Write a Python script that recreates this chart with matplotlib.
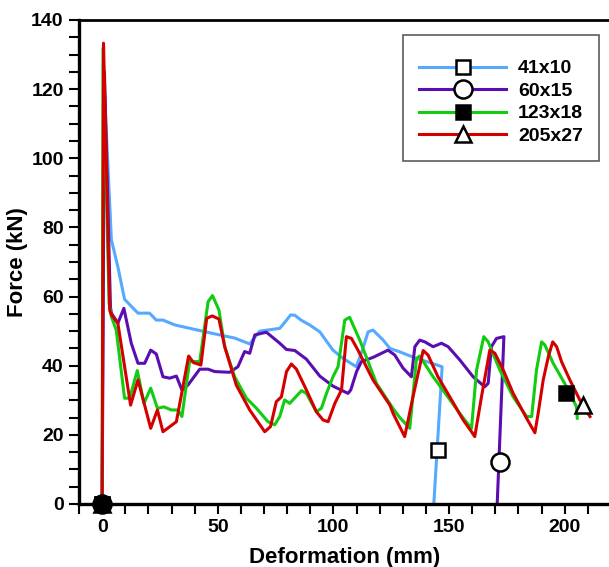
"""
force-deformation curves for the four tube sections
"""

import matplotlib
matplotlib.use("Agg")
import matplotlib.pyplot as plt
from matplotlib.lines import Line2D
from matplotlib.ticker import MultipleLocator

plt.rcParams['font.family'] = ['Liberation Sans', 'DejaVu Sans']
plt.rcParams['font.weight'] = 'bold'

# ---- data (deformation in mm, force in kN) ----
labels = ["41x10", "60x15", "123x18", "205x27"]

x_41 = [0, 0.8, 4.0, 6.8, 9.7, 15.5, 20.5, 23.4, 26.3, 31.4, 40.0, 48.7, 57.3, 63.8, 68.1,
        76.8, 79.5, 81.5, 83.3, 86.0, 89.7, 94.1, 99.8, 104.2, 109.9, 112.5, 115.0, 117.1, 121.5,
        124.4, 128.7, 135.9, 141.7, 147.0, 143.4]
y_41 = [0, 122, 76.4, 68.6, 59.2, 55.2, 55.2, 53.2, 53.2, 51.8, 50.5, 49.2, 48.0, 46.3, 50.0,
        50.8, 53.0, 54.7, 54.6, 53.2, 51.8, 49.8, 44.5, 42.1, 39.7, 44.5, 49.8, 50.3, 47.4,
        45.0, 44.0, 42.1, 40.9, 39.7, 0]

x_60 = [0, 1.0, 3.6, 4.0, 6.8, 9.4, 12.6, 15.5, 18.4, 21.0, 23.4, 26.3, 29.2, 32.1, 34.5,
        37.1, 42.2, 45.8, 48.7, 55.1, 58.7, 61.6, 63.8, 66.0, 71.0, 76.8, 79.7, 83.3,
        88.3, 94.1, 99.8, 106.3, 107.5, 110.0, 112.1, 117.1, 123.6, 126.5, 130.1, 133.7,
        135.2, 137.3, 139.5, 143.1, 146.7, 149.6, 154.6, 160.4, 165.4, 166.9, 168.3,
        170.5, 173.7, 170.8]
y_60 = [0, 125, 57, 55.2, 52.3, 56.6, 46.5, 40.7, 40.7, 44.5, 43.4, 36.8, 36.4, 37.0, 33.0,
        34.4, 39.0, 39.0, 38.3, 38.1, 39.7, 44.1, 43.6, 48.9, 49.7, 46.5, 44.7, 44.4,
        41.9, 37.0, 34.1, 32.0, 33.0, 38.3, 41.2, 42.4, 44.5, 43.1, 39.3, 36.8,
        45.5, 47.4, 46.9, 45.5, 46.5, 45.5, 41.7, 36.8, 33.9, 34.9, 45.5,
        47.9, 48.4, 0]

x_123 = [0, 0.4, 3.0, 4.0, 6.1, 9.7, 11.9, 15.2, 18.1, 21.0, 23.9, 26.7, 29.9, 32.8, 34.5,
         37.8, 42.2, 45.8, 47.7, 50.5, 53.0, 57.3, 62.4, 66.7, 71.7, 74.6, 76.8, 78.9,
         81.1, 86.2, 88.3, 92.6, 94.8, 97.0, 99.8, 102.0, 104.9, 107.0, 111.4, 118.6,
         126.2, 128.7, 133.0, 135.9, 137.3, 143.1, 148.9, 154.6, 159.0, 159.7, 161.9,
         165.0, 166.9, 171.9, 177.7, 183.5, 185.7, 187.8, 190.0, 191.4, 195.0, 200.8,
         205.1, 205.4]
y_123 = [0, 132, 58, 54.2, 50.3, 30.6, 30.6, 38.6, 29.1, 33.5, 27.7, 28.1, 27.2, 27.2, 25.3,
         41.2, 41.2, 58.5, 60.3, 56.1, 45.5, 36.8, 30.6, 27.7, 23.8, 22.9, 25.3, 30.1,
         29.1, 32.8, 32.0, 26.7, 27.7, 32.0, 36.8, 39.7, 53.2, 54.0, 47.4, 34.9,
         27.2, 25.0, 21.9, 42.1, 42.8, 36.8, 31.5, 26.2, 22.4, 21.9, 38.8,
         48.4, 46.9, 38.8, 31.0, 25.3, 25.3, 38.8, 46.9, 46.0, 40.7, 33.9,
         28.1, 24.8]

x_205 = [0, 0.6, 3.3, 4.0, 6.8, 12.3, 15.5, 21.0, 23.9, 26.3, 32.1, 37.4, 39.5, 42.7, 45.2,
         47.6, 50.5, 53.0, 58.0, 63.8, 70.3, 72.8, 75.3, 77.5, 79.7, 81.8, 84.0, 88.3,
         92.6, 95.5, 97.7, 100.6, 103.5, 105.6, 107.8, 110.6, 117.1, 124.4, 125.8, 130.8,
         134.4, 138.8, 140.9, 145.2, 150.3, 156.1, 159.7, 161.1, 164.0, 167.6, 169.8,
         173.4, 177.7, 183.5, 187.1, 188.5, 190.7, 192.9, 194.8, 196.5, 198.6, 202.2,
         206.5, 210.9]
y_205 = [0, 133.3, 56, 54.7, 52.3, 28.6, 35.9, 21.9, 27.2, 20.9, 23.8, 42.8, 40.9, 40.2, 53.7,
         54.4, 53.5, 45.5, 34.4, 27.2, 20.9, 22.4, 29.6, 31.0, 38.3, 40.5, 39.0, 33.0,
         26.7, 24.3, 23.8, 29.1, 33.0, 48.4, 47.9, 44.5, 35.9, 28.6, 26.2, 19.5,
         31.0, 44.4, 43.1, 36.8, 31.0, 24.3, 20.9, 19.5, 31.0, 44.5, 43.6,
         38.8, 32.0, 24.8, 20.6, 26.2, 35.9, 42.6, 46.9, 45.5, 41.2, 35.9,
         30.1, 25.3]

# end-of-test markers
end_x = [145.0, 171.8, 200.5, 207.7]
end_y = [15.6, 12.1, 32.2, 28.6]

series_x = [x_41, x_60, x_123, x_205]
series_y = [y_41, y_60, y_123, y_205]

colors = ["#55aaff", "#5a0db0", "#11cc11", "#d40000"]
markers = ["s", "o", "s", "^"]
marker_faces = ["white", "white", "black", "white"]
marker_sizes = [9.5, 13, 9.5, 11]

fig = plt.figure(figsize=(6.09, 5.67), dpi=100)
ax = fig.add_axes([79 / 609, 63 / 567, 532 / 609, 484 / 567])

for i in range(len(labels)):
    ax.plot(series_x[i], series_y[i], color=colors[i], linewidth=2.2, zorder=2)

# markers at the end of each test
for i in range(len(labels)):
    ax.plot(end_x[i], end_y[i], linestyle="none", marker=markers[i],
            markersize=marker_sizes[i], markerfacecolor=marker_faces[i],
            markeredgecolor="black", markeredgewidth=1.8, zorder=4)

# start markers all stacked on the origin
for i in range(len(labels)):
    ax.plot(series_x[i][0], series_y[i][0], linestyle="none", marker=markers[i],
            markersize=marker_sizes[i], markerfacecolor="black",
            markeredgecolor="black", markeredgewidth=1.8, zorder=3, clip_on=False)

ax.set_xlim(-10, 220)
ax.set_ylim(0, 140)
ax.xaxis.set_major_locator(MultipleLocator(50))
ax.xaxis.set_minor_locator(MultipleLocator(10))
ax.yaxis.set_major_locator(MultipleLocator(20))
ax.yaxis.set_minor_locator(MultipleLocator(5))

ax.tick_params(axis='both', which='both', direction='out', width=1.5, length=7,
               labelsize=14, pad=4)
for lab in ax.get_xticklabels() + ax.get_yticklabels():
    lab.set_fontweight('bold')

for side in ['left', 'bottom']:
    ax.spines[side].set_linewidth(2.4)
ax.spines['top'].set_linewidth(2.0)
ax.spines['right'].set_visible(False)

ax.set_xlabel("Deformation (mm)", fontsize=16, fontweight='bold', labelpad=8)
ax.set_ylabel("Force (kN)", fontsize=16, fontweight='bold', labelpad=2)

handles = [Line2D([0], [0], color=colors[i], linewidth=2.2, marker=markers[i],
                  markersize=marker_sizes[i], markerfacecolor=marker_faces[i],
                  markeredgecolor="black", markeredgewidth=1.8)
           for i in range(len(labels))]
legend = ax.legend(handles, labels, loc='upper right',
                   bbox_to_anchor=(599 / 609, 1 - 35 / 567),
                   bbox_transform=fig.transFigure, borderaxespad=0,
                   handlelength=4.5, handletextpad=0.6,
                   labelspacing=0.25, borderpad=0.82, fancybox=False,
                   prop={'weight': 'bold', 'size': 14},
                   title=" ", title_fontsize=3)
legend.get_frame().set_edgecolor("#333333")
legend.get_frame().set_linewidth(1.2)

fig.savefig("out.png", dpi=100)
